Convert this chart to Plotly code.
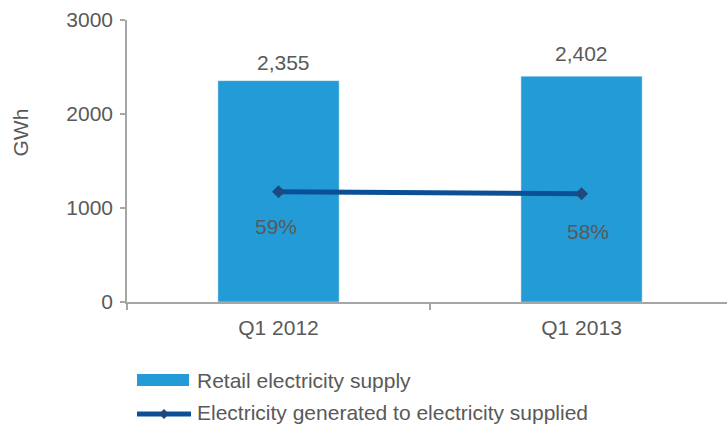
import plotly.graph_objects as go

# ---- data ----
categories = ["Q1 2012", "Q1 2013"]
retail_supply_gwh = [2355, 2402]
bar_labels = ["2,355", "2,402"]
gen_to_supply_pct = [59, 58]
pct_labels = ["59%", "58%"]
y_ticks = [0, 1000, 2000, 3000]
series_names = ["Retail electricity supply", "Electricity generated to electricity supplied"]

# ---- style ----
BAR_COLOR = "#239BD7"
LINE_COLOR = "#0B5096"
MARK_COLOR = "#1F497D"
AXIS_COLOR = "#A6A6A6"
TEXT_COLOR = "#595959"
FONT = "Liberation Sans, Arial, sans-serif"
FS = 21

W, H = 727, 425
L, R, T, B = 127, 0, 20, 123
PW, PH = W - L - R, H - T - B


def px_x(px):
    return (px - L) / PW


def px_y(py):
    return (H - B - py) / PH


fig = go.Figure()
fig.add_trace(go.Bar(
    x=categories, y=retail_supply_gwh, marker_color=BAR_COLOR,
    width=0.4, name=series_names[0], showlegend=False,
))
fig.add_trace(go.Scatter(
    x=categories, y=gen_to_supply_pct, yaxis="y2", mode="lines+markers",
    line=dict(color=LINE_COLOR, width=5),
    marker=dict(symbol="diamond", size=10, color=MARK_COLOR),
    name=series_names[1], showlegend=False,
))

annotations = []
bar_shift = [(5, 18), (0, 23)]
for c, v, t, (dx, dy) in zip(categories, retail_supply_gwh, bar_labels, bar_shift):
    annotations.append(dict(x=c, y=v, xref="x", yref="y", text=t, showarrow=False,
                            xshift=dx, yshift=dy, yanchor="middle",
                            font=dict(size=FS, color=TEXT_COLOR, family=FONT)))
pct_shift = [(-3, -35), (6, -38)]
for c, v, t, (dx, dy) in zip(categories, gen_to_supply_pct, pct_labels, pct_shift):
    annotations.append(dict(x=c, y=v, xref="x", yref="y2", text=t, showarrow=False,
                            xshift=dx, yshift=dy, yanchor="middle",
                            font=dict(size=FS, color=TEXT_COLOR, family=FONT)))
# y title
annotations.append(dict(x=px_x(19.5), y=px_y(133), xref="paper", yref="paper", text="GWh",
                        textangle=-90, showarrow=False, xanchor="center", yanchor="middle",
                        font=dict(size=FS, color=TEXT_COLOR, family=FONT)))
# legend texts
for name, py in zip(series_names, [380, 412]):
    annotations.append(dict(x=px_x(195), y=px_y(py), xref="paper", yref="paper", text=name,
                            showarrow=False, xanchor="left", yanchor="middle",
                            font=dict(size=FS, color=TEXT_COLOR, family=FONT)))

shapes = [
    dict(type="rect", xref="paper", yref="paper", x0=px_x(137), x1=px_x(189),
         y0=px_y(386), y1=px_y(374), fillcolor=BAR_COLOR, line=dict(width=0)),
    dict(type="line", xref="paper", yref="paper", x0=px_x(137), x1=px_x(191),
         y0=px_y(414), y1=px_y(414), line=dict(color=LINE_COLOR, width=5)),
    dict(type="path", xref="paper", yref="paper",
         path=f"M {px_x(159)},{px_y(414)} L {px_x(164)},{px_y(409)} L {px_x(169)},{px_y(414)} L {px_x(164)},{px_y(419)} Z",
         fillcolor=MARK_COLOR, line=dict(width=0)),
]

fig.update_layout(
    width=W, height=H, margin=dict(l=L, r=R, t=T, b=B, pad=0),
    paper_bgcolor="white", plot_bgcolor="white",
    font=dict(family=FONT, size=FS, color=TEXT_COLOR),
    showlegend=False, bargap=0.6,
    xaxis=dict(type="category", range=[-0.5, 1.48], showgrid=False,
               showline=True, linecolor=AXIS_COLOR, linewidth=1.5,
               ticks="outside", ticklen=6, tickcolor=AXIS_COLOR, tickwidth=1.5,
               tickson="boundaries", tickfont=dict(size=FS, color=TEXT_COLOR),
               ticklabelstandoff=6, zeroline=False),
    yaxis=dict(range=[0, 3000], tickvals=y_ticks, showgrid=False,
               showline=True, linecolor=AXIS_COLOR, linewidth=1.5,
               ticks="outside", ticklen=5, tickcolor=AXIS_COLOR, tickwidth=1.5,
               tickfont=dict(size=FS, color=TEXT_COLOR), tickformat="d",
               ticklabelstandoff=3, zeroline=False),
    yaxis2=dict(range=[0, 151], overlaying="y", visible=False),
    annotations=annotations, shapes=shapes,
)

fig.write_html("out.html")
